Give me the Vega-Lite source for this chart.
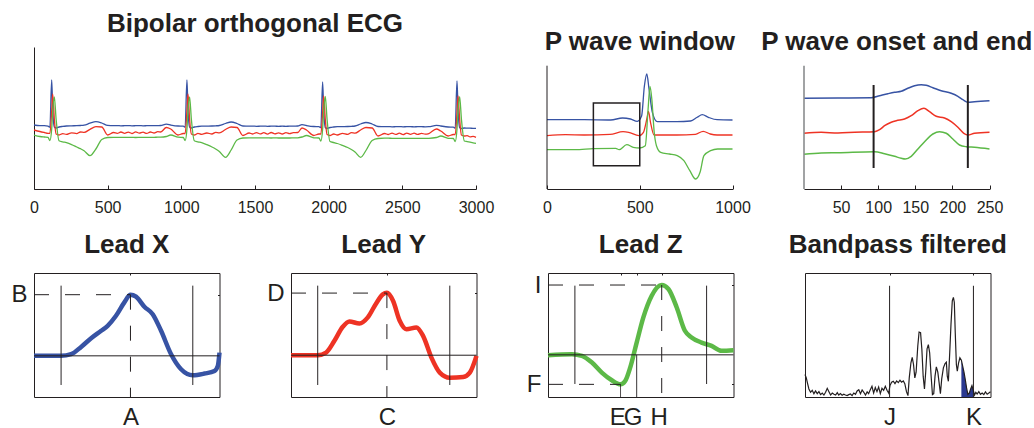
{
"$schema": "https://vega.github.io/schema/vega-lite/v6.json",
"autosize": {"type": "pad"},
"padding": {"left": 10, "top": 11, "right": 0, "bottom": 0},
"config": {
 "view": {"stroke": null},
 "font": "Liberation Sans",
 "axis": {"grid": false, "domainColor": "#231f20", "tickColor": "#231f20", "labelColor": "#231f20", "labelFont": "Liberation Sans", "labelFontSize": 16, "labelFlush": false, "labelOverlap": false, "labelBound": false, "tickSize": -4, "labelPadding": 14, "domainWidth": 1, "tickWidth": 1, "format": "d"},
 "title": {"font": "Liberation Sans", "fontSize": 26, "fontWeight": "bold", "color": "#231f20", "baseline": "alphabetic", "frame": "group", "anchor": "middle", "offset": 15}
},
"datasets": {
 "ecg": [
  {"t":0,"X":64,"Y":59,"Z":54},{"t":40,"X":63.3,"Y":57.5,"Z":52.5},{"t":70,"X":63.3,"Y":56.5,"Z":52},{"t":95,"X":62.8,"Y":55.7,"Z":51.7},{"t":108,"X":61.8,"Y":55.7,"Z":48.5},
  {"t":120,"X":109,"Y":78,"Z":60},{"t":127,"X":80,"Y":95,"Z":78},{"t":138,"X":62,"Y":70,"Z":92},{"t":150,"X":61,"Y":55,"Z":70},{"t":170,"X":62,"Y":54,"Z":48.3},
  {"t":195,"X":62.6,"Y":55.4,"Z":47.2},{"t":220,"X":63,"Y":54.6,"Z":46.3},{"t":255,"X":63.2,"Y":56.2,"Z":44.4},{"t":290,"X":63.3,"Y":55.4,"Z":42},{"t":315,"X":63.5,"Y":57,"Z":40.3},{"t":340,"X":63.8,"Y":56.6,"Z":38.3},{"t":380,"X":65.8,"Y":59.7,"Z":33.3},{"t":420,"X":67.3,"Y":62.3,"Z":40},
  {"t":460,"X":66,"Y":62,"Z":49.5},{"t":500,"X":63.6,"Y":54,"Z":51.5},{"t":540,"X":63.3,"Y":56.5,"Z":51.7},
  {"t":565,"X":63.4,"Y":55.6,"Z":51.7},{"t":590,"X":63.2,"Y":57.0,"Z":51.6},{"t":615,"X":63.3,"Y":55.7,"Z":51.7},{"t":640,"X":63.4,"Y":56.9,"Z":51.7},{"t":665,"X":63.2,"Y":55.5,"Z":51.6},{"t":690,"X":63.3,"Y":57.1,"Z":51.5},{"t":715,"X":63.4,"Y":55.8,"Z":51.6},{"t":740,"X":63.2,"Y":56.8,"Z":51.7},{"t":765,"X":63.3,"Y":55.6,"Z":51.7},{"t":790,"X":63.4,"Y":57.0,"Z":51.7},{"t":815,"X":63.3,"Y":56.0,"Z":51.7},{"t":840,"X":63.4,"Y":57.3,"Z":51.8},{"t":860,"X":63.5,"Y":57,"Z":51.8},
  {"t":898,"X":64.8,"Y":61.5,"Z":52.5},{"t":928,"X":64,"Y":60,"Z":54},{"t":978,"X":63,"Y":54,"Z":51.8},
  {"t":1013,"X":62.8,"Y":55.5,"Z":51.5},{"t":1026,"X":61.8,"Y":55.5,"Z":48.5},{"t":1038,"X":109,"Y":78,"Z":60},{"t":1045,"X":80,"Y":95,"Z":78},{"t":1056,"X":62,"Y":70,"Z":92},
  {"t":1068,"X":61,"Y":55,"Z":70},{"t":1088,"X":62,"Y":54,"Z":48.3},{"t":1113,"X":62.5,"Y":55.6,"Z":47.2},{"t":1138,"X":62.8,"Y":54.6,"Z":46.3},{"t":1173,"X":62.9,"Y":56,"Z":44.3},{"t":1208,"X":63,"Y":55,"Z":42},{"t":1233,"X":63.2,"Y":56.7,"Z":40},{"t":1258,"X":63.5,"Y":56.2,"Z":37.5},
  {"t":1300,"X":65.5,"Y":59.5,"Z":31.7},{"t":1338,"X":67,"Y":62,"Z":39},{"t":1378,"X":65.5,"Y":61.5,"Z":49},{"t":1418,"X":63,"Y":53.5,"Z":51},{"t":1460,"X":62.8,"Y":56,"Z":51.2},
  {"t":1485,"X":62.9,"Y":55.0,"Z":51.2},{"t":1510,"X":62.7,"Y":56.4,"Z":51.2},{"t":1535,"X":62.8,"Y":55.1,"Z":51.1},{"t":1560,"X":62.9,"Y":56.3,"Z":51.2},{"t":1585,"X":62.7,"Y":54.9,"Z":51.1},{"t":1610,"X":62.8,"Y":56.5,"Z":51.0},{"t":1635,"X":62.8,"Y":55.2,"Z":51.1},{"t":1660,"X":62.7,"Y":56.2,"Z":51.0},{"t":1685,"X":62.8,"Y":55.0,"Z":51.0},{"t":1710,"X":62.7,"Y":56.3,"Z":51.0},{"t":1735,"X":62.8,"Y":55.3,"Z":51.0},{"t":1760,"X":62.8,"Y":56.4,"Z":51.1},{"t":1790,"X":63,"Y":56.5,"Z":51.2},
  {"t":1819,"X":64.3,"Y":61,"Z":52},
  {"t":1849,"X":63.5,"Y":59,"Z":53.5},{"t":1899,"X":62.5,"Y":53.5,"Z":51.2},{"t":1934,"X":62.3,"Y":55,"Z":51},{"t":1947,"X":61.3,"Y":55,"Z":48},{"t":1959,"X":107,"Y":76,"Z":60},
  {"t":1966,"X":80,"Y":93,"Z":78},{"t":1977,"X":61.5,"Y":70,"Z":92.5},{"t":1989,"X":60.5,"Y":54.5,"Z":70},{"t":2009,"X":61.5,"Y":53.5,"Z":47.5},{"t":2034,"X":62,"Y":55,"Z":46.5},{"t":2059,"X":62.3,"Y":54,"Z":45.5},{"t":2094,"X":62.4,"Y":55.6,"Z":43.6},
  {"t":2129,"X":62.5,"Y":54.6,"Z":41.5},{"t":2154,"X":62.7,"Y":56.3,"Z":39.5},{"t":2179,"X":63,"Y":55.8,"Z":37},{"t":2217,"X":65,"Y":59,"Z":31.7},{"t":2253,"X":66.5,"Y":61.5,"Z":38.5},{"t":2295,"X":65,"Y":61,"Z":48.5},
  {"t":2335,"X":62.5,"Y":53,"Z":50.5},{"t":2380,"X":62.3,"Y":55.5,"Z":50.8},
  {"t":2405,"X":62.4,"Y":54.5,"Z":50.8},{"t":2430,"X":62.2,"Y":55.9,"Z":50.7},{"t":2455,"X":62.3,"Y":54.6,"Z":50.7},{"t":2480,"X":62.4,"Y":55.8,"Z":50.7},{"t":2505,"X":62.2,"Y":54.4,"Z":50.6},{"t":2530,"X":62.3,"Y":55.9,"Z":50.6},{"t":2555,"X":62.3,"Y":54.7,"Z":50.6},{"t":2580,"X":62.2,"Y":55.8,"Z":50.6},{"t":2605,"X":62.3,"Y":54.6,"Z":50.7},{"t":2630,"X":62.3,"Y":55.7,"Z":50.7},{"t":2655,"X":62.2,"Y":54.8,"Z":50.7},{"t":2680,"X":62.3,"Y":55.4,"Z":50.7},
  {"t":2731,"X":63.7,"Y":60,"Z":51.5},{"t":2761,"X":63,"Y":58,"Z":53},{"t":2811,"X":62,"Y":53,"Z":50.7},{"t":2846,"X":61.8,"Y":54.5,"Z":50.5},{"t":2859,"X":60.8,"Y":54.5,"Z":47.5},
  {"t":2871,"X":108,"Y":76,"Z":60},{"t":2878,"X":80,"Y":93,"Z":78},{"t":2889,"X":61.5,"Y":70,"Z":92.3},{"t":2901,"X":60.5,"Y":54,"Z":70},{"t":2921,"X":61,"Y":53,"Z":48},
  {"t":2940,"X":60.9,"Y":53.4,"Z":47.4},{"t":2960,"X":60.8,"Y":52.1,"Z":46.8},{"t":2980,"X":60.7,"Y":52.6,"Z":46.2},{"t":3000,"X":60.7,"Y":51.7,"Z":45.7}
 ],
 "pwin": [
  {"t":0,"lead":"X","v":69.3},{"t":200,"lead":"X","v":69.3},{"t":343,"lead":"X","v":69},{"t":407,"lead":"X","v":71},{"t":450,"lead":"X","v":70},{"t":487,"lead":"X","v":67.7},{"t":510,"lead":"X","v":73},{"t":525,"lead":"X","v":103},{"t":538,"lead":"X","v":115},{"t":550,"lead":"X","v":100},{"t":568,"lead":"X","v":76.7},{"t":595,"lead":"X","v":67.3},{"t":700,"lead":"X","v":67.3},{"t":774,"lead":"X","v":68},{"t":810,"lead":"X","v":71.7},{"t":837,"lead":"X","v":74.3},{"t":870,"lead":"X","v":71.7},{"t":917,"lead":"X","v":69.3},{"t":1000,"lead":"X","v":69},
  {"t":0,"lead":"Y","v":53.3},{"t":100,"lead":"Y","v":54.3},{"t":200,"lead":"Y","v":54},{"t":340,"lead":"Y","v":54.7},{"t":410,"lead":"Y","v":57.3},{"t":440,"lead":"Y","v":56.7},{"t":496,"lead":"Y","v":53.3},{"t":520,"lead":"Y","v":56.7},{"t":538,"lead":"Y","v":70},{"t":547,"lead":"Y","v":77.7},{"t":558,"lead":"Y","v":66.7},{"t":577,"lead":"Y","v":54},{"t":700,"lead":"Y","v":54},{"t":800,"lead":"Y","v":54.7},{"t":842,"lead":"Y","v":57.7},{"t":880,"lead":"Y","v":55},{"t":917,"lead":"Y","v":54},{"t":1000,"lead":"Y","v":54},
  {"t":0,"lead":"Z","v":39.3},{"t":150,"lead":"Z","v":39.3},{"t":250,"lead":"Z","v":40.3},{"t":370,"lead":"Z","v":40.7},{"t":389,"lead":"Z","v":39.3},{"t":430,"lead":"Z","v":44.3},{"t":465,"lead":"Z","v":41.7},{"t":500,"lead":"Z","v":41},{"t":530,"lead":"Z","v":43.3},{"t":545,"lead":"Z","v":80},{"t":555,"lead":"Z","v":102.7},{"t":565,"lead":"Z","v":90},{"t":578,"lead":"Z","v":56.7},{"t":590,"lead":"Z","v":43.3},{"t":613,"lead":"Z","v":36.7},{"t":660,"lead":"Z","v":35},{"t":702,"lead":"Z","v":33.3},{"t":738,"lead":"Z","v":28.3},{"t":770,"lead":"Z","v":18.3},{"t":801,"lead":"Z","v":10},{"t":825,"lead":"Z","v":16.7},{"t":846,"lead":"Z","v":33.3},{"t":882,"lead":"Z","v":38.3},{"t":920,"lead":"Z","v":40},{"t":1000,"lead":"Z","v":40}
 ],
 "ponset": [
  {"t":0,"lead":"X","v":90.7},{"t":45.8,"lead":"X","v":91},{"t":90.7,"lead":"X","v":91.3},{"t":101.9,"lead":"X","v":93.3},{"t":113.1,"lead":"X","v":95.3},{"t":122.1,"lead":"X","v":96.7},{"t":131.1,"lead":"X","v":97.7},{"t":140,"lead":"X","v":100.7},{"t":149,"lead":"X","v":103.3},{"t":158,"lead":"X","v":104.3},{"t":164.7,"lead":"X","v":103.7},{"t":173.7,"lead":"X","v":101.3},{"t":184.9,"lead":"X","v":98.3},{"t":198.4,"lead":"X","v":95.7},{"t":207.4,"lead":"X","v":92.7},{"t":214.1,"lead":"X","v":89.3},{"t":220.8,"lead":"X","v":86.7},{"t":229.8,"lead":"X","v":87.3},{"t":250,"lead":"X","v":88.3},
  {"t":0,"lead":"Y","v":55.7},{"t":23.3,"lead":"Y","v":56.7},{"t":45.8,"lead":"Y","v":56},{"t":68.2,"lead":"Y","v":56.7},{"t":95.2,"lead":"Y","v":57.3},{"t":101.9,"lead":"Y","v":59.3},{"t":108.6,"lead":"Y","v":63.3},{"t":117.6,"lead":"Y","v":66.7},{"t":124.3,"lead":"Y","v":68.3},{"t":135.5,"lead":"Y","v":70},{"t":144.5,"lead":"Y","v":73.3},{"t":153.5,"lead":"Y","v":78.3},{"t":161.6,"lead":"Y","v":80.7},{"t":169.2,"lead":"Y","v":77.3},{"t":178.2,"lead":"Y","v":72.7},{"t":189.4,"lead":"Y","v":71},{"t":198.4,"lead":"Y","v":67.3},{"t":207.4,"lead":"Y","v":61.7},{"t":215.4,"lead":"Y","v":55.7},{"t":220.8,"lead":"Y","v":54},{"t":229.8,"lead":"Y","v":55.7},{"t":250,"lead":"Y","v":56.7},
  {"t":0,"lead":"Z","v":34.7},{"t":23.3,"lead":"Z","v":36},{"t":45.8,"lead":"Z","v":36.3},{"t":95.2,"lead":"Z","v":37.3},{"t":108.6,"lead":"Z","v":35.3},{"t":122.1,"lead":"Z","v":32.7},{"t":131.1,"lead":"Z","v":30.7},{"t":136.4,"lead":"Z","v":30},{"t":144.5,"lead":"Z","v":32.7},{"t":153.5,"lead":"Z","v":40},{"t":162.5,"lead":"Z","v":47.3},{"t":173.7,"lead":"Z","v":55},{"t":182.7,"lead":"Z","v":57.3},{"t":191.7,"lead":"Z","v":55.7},{"t":200.6,"lead":"Z","v":50},{"t":209.6,"lead":"Z","v":44},{"t":218.6,"lead":"Z","v":42.3},{"t":229.8,"lead":"Z","v":41.7},{"t":250,"lead":"Z","v":40}
 ],
 "leadX": [
  {"x":0,"y":33.2},{"x":14.6,"y":33.2},{"x":20.0,"y":34.5},{"x":25.4,"y":40.4},{"x":30.8,"y":47.4},{"x":36.2,"y":53.4},{"x":39.7,"y":57.4},{"x":44.2,"y":65.5},{"x":48.7,"y":76.3},{"x":52.0,"y":82.5},{"x":55.0,"y":80.9},{"x":59.5,"y":72.8},{"x":64.0,"y":66.8},{"x":68.5,"y":53.4},{"x":73.9,"y":34.5},{"x":79.3,"y":22.4},{"x":85.6,"y":17.5},{"x":91.9,"y":18.9},{"x":97.3,"y":21.0},{"x":99.1,"y":25.1},{"x":100,"y":35.8}
 ],
 "leadY": [
  {"x":0,"y":33.7},{"x":14.4,"y":33.7},{"x":18.9,"y":35.8},{"x":23.4,"y":45.3},{"x":27.9,"y":56.6},{"x":31.5,"y":60.9},{"x":36.9,"y":59.3},{"x":41.4,"y":64.2},{"x":45.9,"y":75.5},{"x":49.5,"y":82.8},{"x":51.7,"y":84.0},{"x":55.0,"y":77.6},{"x":58.6,"y":61.5},{"x":62.2,"y":54.7},{"x":67.6,"y":56.1},{"x":71.2,"y":49.3},{"x":75.7,"y":31.8},{"x":80.2,"y":19.7},{"x":85.6,"y":15.6},{"x":92.8,"y":16.2},{"x":96.4,"y":19.7},{"x":100,"y":33.2}
 ],
 "leadZ": [
  {"x":0,"y":33.7},{"x":12.9,"y":34.5},{"x":18.3,"y":33.2},{"x":23.7,"y":27.8},{"x":29.0,"y":19.7},{"x":34.4,"y":13.5},{"x":39.1,"y":10.2},{"x":41.6,"y":12.9},{"x":44.3,"y":23.7},{"x":47.8,"y":43.9},{"x":51.4,"y":64.2},{"x":55.9,"y":81.7},{"x":61.3,"y":90.3},{"x":64.9,"y":87.1},{"x":69.4,"y":72.2},{"x":73.8,"y":53.4},{"x":77.4,"y":48.0},{"x":82.8,"y":43.9},{"x":88.2,"y":41.2},{"x":93.5,"y":37.2},{"x":100,"y":37.7}
 ],
 "bp": [
  {"x":0,"y":18.1},{"x":0.7,"y":15.4},{"x":1.4,"y":10.8},{"x":2.1,"y":6.5},{"x":3.0,"y":3.8},{"x":3.9,"y":5.4},{"x":4.8,"y":2.7},{"x":5.7,"y":4.9},{"x":6.6,"y":2.7},{"x":7.5,"y":4.3},{"x":8.4,"y":1.9},{"x":9.3,"y":3.2},{"x":10.2,"y":1.6},{"x":11.1,"y":3.8},{"x":12.0,"y":7.0},{"x":12.9,"y":4.3},{"x":13.8,"y":1.6},{"x":14.7,"y":3.2},{"x":15.6,"y":2.2},{"x":16.5,"y":1.6},{"x":17.4,"y":3.5},{"x":18.2,"y":1.6},{"x":19.1,"y":2.7},{"x":20.0,"y":1.4},{"x":20.9,"y":2.2},{"x":21.8,"y":1.6},{"x":22.7,"y":1.1},{"x":23.6,"y":1.9},{"x":24.5,"y":2.4},{"x":25.4,"y":1.1},{"x":26.3,"y":3.2},{"x":27.2,"y":2.2},{"x":28.1,"y":4.9},{"x":29.0,"y":5.9},{"x":29.9,"y":2.7},{"x":30.8,"y":5.7},{"x":31.7,"y":3.8},{"x":32.6,"y":1.6},{"x":33.5,"y":4.1},{"x":34.3,"y":2.7},{"x":35.2,"y":5.9},{"x":36.1,"y":8.6},{"x":37.0,"y":3.2},{"x":37.9,"y":7.6},{"x":38.8,"y":4.3},{"x":39.7,"y":8.1},{"x":40.6,"y":2.7},{"x":41.5,"y":7.0},{"x":42.4,"y":5.4},{"x":43.3,"y":8.6},{"x":44.2,"y":5.4},{"x":45.1,"y":3.2},{"x":45.8,"y":9.2},{"x":46.7,"y":11.9},{"x":47.6,"y":12.7},{"x":48.5,"y":10.8},{"x":49.4,"y":13.0},{"x":50.3,"y":11.6},{"x":51.2,"y":13.5},{"x":52.1,"y":11.9},{"x":53.0,"y":13.0},{"x":53.8,"y":10.8},{"x":54.7,"y":4.3},{"x":55.5,"y":1.1},{"x":56.2,"y":15.4},{"x":57.1,"y":27.6},{"x":57.8,"y":31.9},{"x":58.5,"y":26.2},{"x":59.2,"y":15.4},{"x":59.9,"y":20.0},{"x":60.8,"y":41.1},{"x":61.5,"y":52.4},{"x":62.3,"y":51.9},{"x":63.0,"y":38.4},{"x":63.7,"y":16.8},{"x":64.4,"y":6.5},{"x":65.1,"y":20.8},{"x":65.8,"y":38.9},{"x":66.5,"y":42.2},{"x":67.2,"y":35.7},{"x":68.0,"y":16.8},{"x":68.7,"y":1.9},{"x":69.4,"y":2.7},{"x":70.1,"y":16.8},{"x":70.8,"y":24.3},{"x":71.6,"y":20.0},{"x":72.3,"y":11.4},{"x":73.0,"y":2.7},{"x":73.7,"y":14.6},{"x":74.6,"y":23.5},{"x":75.5,"y":27.0},{"x":76.2,"y":28.1},{"x":76.7,"y":16.8},{"x":77.3,"y":12.7},{"x":78.0,"y":35.1},{"x":78.7,"y":58.6},{"x":79.4,"y":77.6},{"x":80.0,"y":80.3},{"x":80.5,"y":76.2},{"x":81.0,"y":51.9},{"x":81.6,"y":26.2},{"x":82.1,"y":20.8},{"x":82.8,"y":27.6},{"x":83.5,"y":31.6},{"x":84.3,"y":29.7},{"x":85.0,"y":24.9},{"x":85.7,"y":20.0},{"x":86.4,"y":14.1},{"x":87.1,"y":7.3},{"x":87.8,"y":2.2},{"x":88.6,"y":3.2},{"x":89.3,"y":6.5},{"x":90.0,"y":9.2},{"x":90.7,"y":5.4},{"x":91.4,"y":1.6},{"x":92.1,"y":3.8},{"x":92.8,"y":2.4},{"x":93.7,"y":4.3},{"x":94.6,"y":2.2},{"x":95.5,"y":3.2},{"x":96.4,"y":1.9},{"x":97.3,"y":4.1},{"x":98.2,"y":2.2},{"x":99.1,"y":3.2},{"x":100,"y":4.3}
 ],
 "segX": [
  {"x":14.6,"x2":14.6,"y":9.7,"y2":89.8,"s":"solid"},{"x":85.6,"x2":85.6,"y":9.7,"y2":89.8,"s":"solid"},{"x":0,"x2":100,"y":33.2,"y2":33.2,"s":"solid"},{"x":0,"x2":52,"y":82.5,"y2":82.5,"s":"dash"},{"x":52,"x2":52,"y":82.5,"y2":0,"s":"dash"}
 ],
 "segY": [
  {"x":14.4,"x2":14.4,"y":9.7,"y2":89.8,"s":"solid"},{"x":85.6,"x2":85.6,"y":9.7,"y2":89.8,"s":"solid"},{"x":0,"x2":100,"y":33.7,"y2":33.7,"s":"solid"},{"x":0,"x2":51.7,"y":83.8,"y2":83.8,"s":"dash"},{"x":51.7,"x2":51.7,"y":83.8,"y2":0,"s":"dash"}
 ],
 "segZ": [
  {"x":14.5,"x2":14.5,"y":10.5,"y2":89.8,"s":"solid"},{"x":85.5,"x2":85.5,"y":10.5,"y2":89.8,"s":"solid"},{"x":0,"x2":100,"y":34.0,"y2":34.0,"s":"solid"},{"x":0,"x2":61.3,"y":90.3,"y2":90.3,"s":"dash"},{"x":61.3,"x2":61.3,"y":90.3,"y2":0,"s":"dash"},{"x":0,"x2":39.1,"y":10.2,"y2":10.2,"s":"dash"},{"x":39.1,"x2":39.1,"y":10.2,"y2":0,"s":"solid"},{"x":47.8,"x2":47.8,"y":34.0,"y2":0,"s":"solid"}
 ],
 "segBP": [
  {"x":45.6,"x2":45.6,"y":89.7,"y2":0,"s":"solid"},{"x":90.8,"x2":90.8,"y":89.7,"y2":0,"s":"solid"}
 ]
},
"vconcat": [
 {"hconcat": [
  {"width": 442, "height": 142,
   "title": {"text": "Bipolar orthogonal ECG", "offset": 10},
   "data": {"name": "ecg"},
   "transform": [{"fold": ["X","Y","Z"], "as": ["lead","v"]}],
   "mark": {"type": "line", "strokeWidth": 1.3, "interpolate": "monotone"},
   "encoding": {
    "x": {"field": "t", "type": "quantitative", "title": null, "scale": {"domain": [0,3000], "nice": false}, "axis": {"values": [0,500,1000,1500,2000,2500,3000]}},
    "y": {"field": "v", "type": "quantitative", "title": null, "scale": {"domain": [0,142], "nice": false, "zero": false}, "axis": {"ticks": false, "labels": false}},
    "color": {"field": "lead", "type": "nominal", "scale": {"domain": ["X","Y","Z"], "range": ["#3753a4","#ee3324","#5cb947"]}, "legend": null}
   }},
  {"width": 185.5, "height": 142,
   "title": {"text": "P wave window", "offset": -8},
   "layer": [
    {"data": {"name": "pwin"}, "mark": {"type": "line", "strokeWidth": 1.3, "interpolate": "monotone"},
     "encoding": {
      "x": {"field": "t", "type": "quantitative", "title": null, "scale": {"domain": [0,1000], "nice": false}, "axis": {"values": [0,500,1000]}},
      "y": {"field": "v", "type": "quantitative", "title": null, "scale": {"domain": [0,142], "nice": false, "zero": false}, "axis": null},
      "color": {"field": "lead", "type": "nominal", "scale": {"domain": ["X","Y","Z"], "range": ["#3753a4","#ee3324","#5cb947"]}, "legend": null}
     }},
    {"data": {"values": [{"a":250,"b":500,"c":23.3,"d":86}]}, "mark": {"type": "rect", "fill": "transparent", "stroke": "#231f20", "strokeWidth": 1.5},
     "encoding": {"x": {"field": "a", "type": "quantitative", "axis": {"values": [0,500,1000]}, "title": null}, "x2": {"field": "b"}, "y": {"field": "c", "type": "quantitative", "axis": null}, "y2": {"field": "d"}}},
    {"data": {"values": [{"a":0,"c":0,"d":123.3}]}, "mark": {"type": "rule", "stroke": "#231f20", "strokeWidth": 1},
     "encoding": {"x": {"field": "a", "type": "quantitative", "axis": {"values": [0,500,1000]}, "title": null}, "y": {"field": "c", "type": "quantitative", "axis": null}, "y2": {"field": "d"}}}
   ]},
  {"width": 185.5, "height": 142,
   "title": {"text": "P wave onset and end", "offset": -8},
   "layer": [
    {"data": {"name": "ponset"}, "mark": {"type": "line", "strokeWidth": 1.5, "interpolate": "monotone"},
     "encoding": {
      "x": {"field": "t", "type": "quantitative", "title": null, "scale": {"domain": [0,250], "nice": false}, "axis": {"values": [50,100,150,200,250]}},
      "y": {"field": "v", "type": "quantitative", "title": null, "scale": {"domain": [0,142], "nice": false, "zero": false}, "axis": null},
      "color": {"field": "lead", "type": "nominal", "scale": {"domain": ["X","Y","Z"], "range": ["#3753a4","#ee3324","#5cb947"]}, "legend": null}
     }},
    {"data": {"values": [{"a":93.8,"c":21,"d":104},{"a":220.8,"c":21,"d":104}]}, "mark": {"type": "rule", "stroke": "#231f20", "strokeWidth": 2},
     "encoding": {"x": {"field": "a", "type": "quantitative", "axis": {"values": [50,100,150,200,250]}, "title": null}, "y": {"field": "c", "type": "quantitative", "axis": null}, "y2": {"field": "d"}}},
    {"data": {"values": [{"a":0,"c":0,"d":123.3}]}, "mark": {"type": "rule", "stroke": "#8a8c8e", "strokeWidth": 1.6},
     "encoding": {"x": {"field": "a", "type": "quantitative", "axis": {"values": [50,100,150,200,250]}, "title": null}, "y": {"field": "c", "type": "quantitative", "axis": null}, "y2": {"field": "d"}}}
   ]}
 ], "spacing": 71, "bounds": "flush"},
 {"hconcat": [
  {"width": 185.5, "height": 124,
   "title": {"text": "Lead X"},
   "view": {"stroke": "#231f20", "strokeWidth": 1},
   "resolve": {"axis": {"x": "independent", "y": "independent"}},
   "layer": [
    {"data": {"name": "leadX"}, "mark": {"type": "line", "strokeWidth": 4.5, "interpolate": "monotone", "color": "#3753a4"},
     "encoding": {
      "x": {"field": "x", "type": "quantitative", "title": null, "scale": {"domain": [0,100], "nice": false}, "axis": {"orient": "top", "values": [52], "labels": false, "domain": false, "tickSize": -2}},
      "y": {"field": "y", "type": "quantitative", "title": null, "scale": {"domain": [0,100], "nice": false, "zero": false}, "axis": {"orient": "right", "values": [82.5], "labels": false, "domain": false, "tickSize": -2}}
     }},
    {"data": {"name": "segX"}, "mark": {"type": "rule", "color": "#231f20", "strokeWidth": 1},
     "encoding": {
      "x": {"field": "x", "type": "quantitative", "title": null, "axis": {"orient": "bottom", "values": [52], "labelExpr": "'A'", "domain": false, "ticks": false, "labelFontSize": 24, "labelPadding": 8}},
      "x2": {"field": "x2"},
      "y": {"field": "y", "type": "quantitative", "title": null, "axis": {"orient": "left", "values": [82.5], "labelExpr": "'B'", "domain": false, "ticks": false, "labelFontSize": 24, "labelPadding": 7}},
      "y2": {"field": "y2"},
      "strokeDash": {"field": "s", "type": "nominal", "scale": {"domain": ["solid","dash"], "range": [[1,0],[15,16]]}, "legend": null}
     }}
   ]},
  {"width": 185.5, "height": 124,
   "title": {"text": "Lead Y"},
   "view": {"stroke": "#231f20", "strokeWidth": 1},
   "resolve": {"axis": {"x": "independent", "y": "independent"}},
   "layer": [
    {"data": {"name": "leadY"}, "mark": {"type": "line", "strokeWidth": 4.5, "interpolate": "monotone", "color": "#ee3324"},
     "encoding": {
      "x": {"field": "x", "type": "quantitative", "title": null, "scale": {"domain": [0,100], "nice": false}, "axis": {"orient": "top", "values": [51.7], "labels": false, "domain": false, "tickSize": -2}},
      "y": {"field": "y", "type": "quantitative", "title": null, "scale": {"domain": [0,100], "nice": false, "zero": false}, "axis": {"orient": "right", "values": [83.8], "labels": false, "domain": false, "tickSize": -2}}
     }},
    {"data": {"name": "segY"}, "mark": {"type": "rule", "color": "#231f20", "strokeWidth": 1},
     "encoding": {
      "x": {"field": "x", "type": "quantitative", "title": null, "axis": {"orient": "bottom", "values": [51.7], "labelExpr": "'C'", "domain": false, "ticks": false, "labelFontSize": 24, "labelPadding": 8}},
      "x2": {"field": "x2"},
      "y": {"field": "y", "type": "quantitative", "title": null, "axis": {"orient": "left", "values": [83.8], "labelExpr": "'D'", "domain": false, "ticks": false, "labelFontSize": 24, "labelPadding": 7}},
      "y2": {"field": "y2"},
      "strokeDash": {"field": "s", "type": "nominal", "scale": {"domain": ["solid","dash"], "range": [[1,0],[15,16]]}, "legend": null}
     }}
   ]},
  {"width": 185.5, "height": 124,
   "title": {"text": "Lead Z"},
   "view": {"stroke": "#231f20", "strokeWidth": 1},
   "resolve": {"axis": {"x": "independent", "y": "independent"}},
   "layer": [
    {"data": {"name": "leadZ"}, "mark": {"type": "line", "strokeWidth": 4.5, "interpolate": "monotone", "color": "#5cb947"},
     "encoding": {
      "x": {"field": "x", "type": "quantitative", "title": null, "scale": {"domain": [0,100], "nice": false}, "axis": {"orient": "top", "values": [39.1,47.8,61.3], "labels": false, "domain": false, "tickSize": -2}},
      "y": {"field": "y", "type": "quantitative", "title": null, "scale": {"domain": [0,100], "nice": false, "zero": false}, "axis": {"orient": "right", "values": [10.2,90.3], "labels": false, "domain": false, "tickSize": -2}}
     }},
    {"data": {"name": "segZ"}, "mark": {"type": "rule", "color": "#231f20", "strokeWidth": 1},
     "encoding": {
      "x": {"field": "x", "type": "quantitative", "title": null, "axis": {"orient": "bottom", "values": [37.3,45.6,59.7], "labelExpr": "datum.value < 41 ? 'E' : datum.value < 50 ? 'G' : 'H'", "domain": false, "ticks": false, "labelFontSize": 24, "labelPadding": 8}},
      "x2": {"field": "x2"},
      "y": {"field": "y", "type": "quantitative", "title": null, "axis": {"orient": "left", "values": [10.2,90.3], "labelExpr": "datum.value < 50 ? 'F' : 'I'", "domain": false, "ticks": false, "labelFontSize": 24, "labelPadding": 7}},
      "y2": {"field": "y2"},
      "strokeDash": {"field": "s", "type": "nominal", "scale": {"domain": ["solid","dash"], "range": [[1,0],[15,16]]}, "legend": null}
     }}
   ]},
  {"width": 185.5, "height": 124,
   "title": {"text": "Bandpass filtered"},
   "view": {"stroke": "#231f20", "strokeWidth": 1},
   "resolve": {"axis": {"x": "independent", "y": "independent"}},
   "layer": [
    {"data": {"name": "bp"}, "transform": [{"filter": "datum.x >= 84.3 && datum.x <= 90.7"}], "mark": {"type": "area", "color": "#2b3990", "interpolate": "linear"},
     "encoding": {
      "x": {"field": "x", "type": "quantitative", "title": null, "scale": {"domain": [0,100], "nice": false}, "axis": null},
      "y": {"field": "y", "type": "quantitative", "title": null, "scale": {"domain": [0,100], "nice": false, "zero": false}, "axis": null}
     }},
    {"data": {"name": "bp"}, "mark": {"type": "line", "strokeWidth": 1.2, "color": "#231f20"},
     "encoding": {
      "x": {"field": "x", "type": "quantitative", "title": null, "axis": {"orient": "top", "values": [45.6,90.8], "labels": false, "domain": false, "tickSize": -2}},
      "y": {"field": "y", "type": "quantitative", "title": null, "axis": null}
     }},
    {"data": {"name": "segBP"}, "mark": {"type": "rule", "color": "#231f20", "strokeWidth": 1},
     "encoding": {
      "x": {"field": "x", "type": "quantitative", "title": null, "axis": {"orient": "bottom", "values": [45.6,90.8], "labelExpr": "datum.value < 60 ? 'J' : 'K'", "domain": false, "ticks": false, "labelFontSize": 24, "labelPadding": 8}},
      "x2": {"field": "x2"},
      "y": {"field": "y", "type": "quantitative", "title": null, "axis": null},
      "y2": {"field": "y2"}
     }}
   ]}
 ], "spacing": 71, "bounds": "flush"}
],
"spacing": 16
}
